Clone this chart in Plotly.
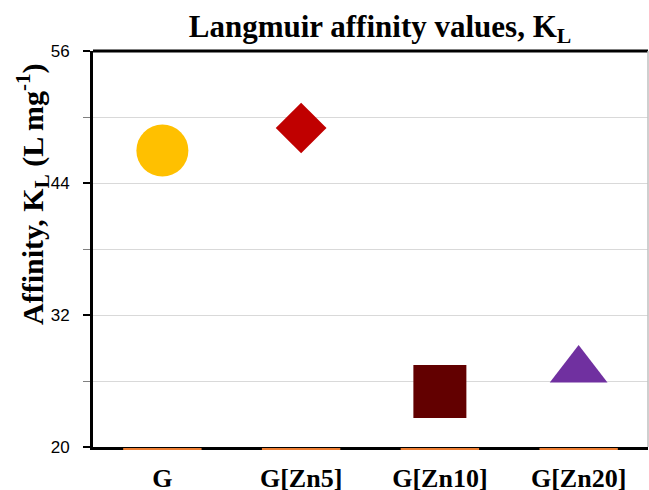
import plotly.graph_objects as go

categories = ["G", "G[Zn5]", "G[Zn10]", "G[Zn20]"]
affinity = [46.95, 49.0, 25.05, 27.0]
marker_symbols = ["circle", "diamond", "square", "triangle-up"]
marker_colors = ["#FFC000", "#C00000", "#620000", "#7030A0"]
marker_sizes = [52, 39, 53, 50]
base_values = [20, 20, 20, 20]
y_ticks = [20, 32, 44, 56]

fig = go.Figure()

fig.add_trace(go.Scatter(
    x=categories, y=affinity, mode="markers",
    marker=dict(symbol=marker_symbols, color=marker_colors, size=marker_sizes,
                opacity=1, line=dict(width=0)),
    cliponaxis=False, showlegend=False))

# thin orange series sitting just under the axis floor (own thin strip subplot)
fig.add_trace(go.Scatter(
    x=categories, y=base_values, mode="markers", xaxis="x2", yaxis="y2",
    marker=dict(symbol="line-ew-open", size=56, opacity=1, color="#ED7D31",
                line=dict(color="#ED7D31", width=2)),
    cliponaxis=False, showlegend=False, hoverinfo="skip"))

serif = "Liberation Serif, Times New Roman, serif"
H = 400.0  # plot-area height in px (paper)

fig.update_layout(
    width=649, height=490,
    margin=dict(l=93, r=1, t=51, b=39, autoexpand=False),
    paper_bgcolor="white", plot_bgcolor="white",
    title=dict(text="<b>Langmuir affinity values, K<sub>L</sub></b>",
               font=dict(family=serif, size=31, color="black"),
               x=380/649, xanchor="center", y=1-26/490, yanchor="middle",
               xref="container", yref="container"),
    xaxis=dict(type="category", range=[-0.5, 3.5], showline=True,
               linecolor="black", linewidth=3, anchor="y",
               ticks="", showgrid=False, zeroline=False,
               tickfont=dict(family=serif, size=26, color="black"),
               ticklabelstandoff=6,
               tickprefix="<b>", ticksuffix="</b>"),
    xaxis2=dict(type="category", range=[-0.5, 3.5], anchor="y2", visible=False),
    yaxis=dict(domain=[4/H, 1], range=[20, 56], tickvals=y_ticks, showline=True,
               linecolor="black", anchor="x",
               linewidth=3, ticks="outside", ticklen=7, tickwidth=2, tickcolor="black",
               showgrid=True, gridcolor="#D9D9D9", gridwidth=1, zeroline=False,
               tickfont=dict(family="Liberation Sans, Arial, sans-serif", size=17,
                             color="black"),
               ticklabelstandoff=10,
               minor=dict(dtick=6, tick0=20, ticks="outside", ticklen=7, tickwidth=1,
                          tickcolor="#808080", showgrid=True, gridcolor="#D9D9D9",
                          gridwidth=1)),
    yaxis2=dict(domain=[0, 4/H], range=[19, 21], anchor="x2", visible=False),
    annotations=[dict(
        text="<b>Affinity, K<sub>L</sub> (L mg<sup>-1</sup>)</b>",
        xref="paper", yref="paper", x=(32-93)/555, y=(451-194)/H,
        xanchor="center", yanchor="middle", textangle=-90, showarrow=False,
        font=dict(family=serif, size=30, color="black"))],
    shapes=[
        dict(type="line", xref="paper", yref="paper", x0=0, x1=1, y0=1, y1=1,
             line=dict(color="black", width=3), layer="above"),
        dict(type="line", xref="paper", yref="paper", x0=1, x1=1, y0=4/H, y1=1,
             line=dict(color="#BFBFBF", width=1.5), layer="above"),
    ],
)

fig.write_html("out.html", config={"displayModeBar": False},
               post_script="document.body.style.margin='0';document.body.style.padding='0';")
